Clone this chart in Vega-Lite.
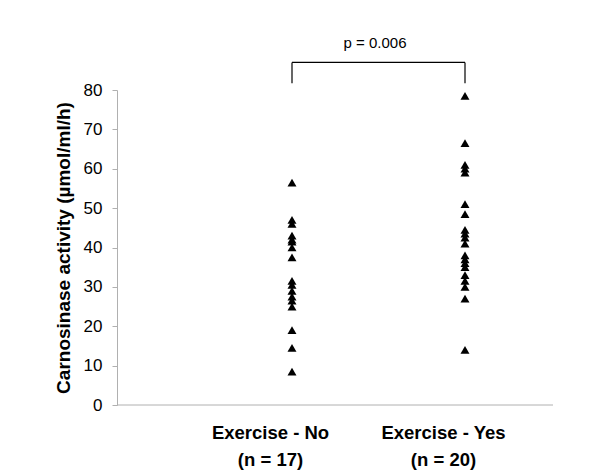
{
  "$schema": "https://vega.github.io/schema/vega-lite/v6.json",
  "autosize": "none",
  "width": 436,
  "height": 315,
  "padding": {"left": 117, "top": 90, "right": 47, "bottom": 66},
  "background": "white",
  "config": {"view": {"stroke": null}, "font": "Liberation Sans", "axisY": {"tickCount": 9, "labelOverlap": false}},
  "datasets": {
    "points": [
      {"group": "No", "activity": 56.5}, {"group": "No", "activity": 47}, {"group": "No", "activity": 46},
      {"group": "No", "activity": 43}, {"group": "No", "activity": 42}, {"group": "No", "activity": 41.5},
      {"group": "No", "activity": 40}, {"group": "No", "activity": 37.5}, {"group": "No", "activity": 31.5},
      {"group": "No", "activity": 30.5}, {"group": "No", "activity": 29}, {"group": "No", "activity": 27.5},
      {"group": "No", "activity": 26.5}, {"group": "No", "activity": 25}, {"group": "No", "activity": 19},
      {"group": "No", "activity": 14.5}, {"group": "No", "activity": 8.5},
      {"group": "Yes", "activity": 78.5}, {"group": "Yes", "activity": 66.5}, {"group": "Yes", "activity": 61},
      {"group": "Yes", "activity": 60}, {"group": "Yes", "activity": 59}, {"group": "Yes", "activity": 51},
      {"group": "Yes", "activity": 48.5}, {"group": "Yes", "activity": 44.5}, {"group": "Yes", "activity": 43.5},
      {"group": "Yes", "activity": 42.5}, {"group": "Yes", "activity": 41}, {"group": "Yes", "activity": 38},
      {"group": "Yes", "activity": 37}, {"group": "Yes", "activity": 36}, {"group": "Yes", "activity": 35},
      {"group": "Yes", "activity": 33}, {"group": "Yes", "activity": 31.5}, {"group": "Yes", "activity": 30},
      {"group": "Yes", "activity": 27}, {"group": "Yes", "activity": 14}
    ],
    "bracketLegs": [
      {"group": "No", "top": 87, "bottom": 81.7},
      {"group": "Yes", "top": 87, "bottom": 81.7}
    ],
    "bracketTop": [
      {"from": "No", "to": "Yes", "level": 87, "base": 0, "label": "p = 0.006"}
    ]
  },
  "layer": [
    {
      "data": {"name": "points"},
      "mark": {"type": "point", "shape": "triangle-up", "filled": true, "color": "black", "opacity": 1, "size": 80},
      "encoding": {
        "x": {
          "field": "group", "type": "ordinal",
          "scale": {"type": "point", "domain": ["No", "Yes"], "range": [175, 348], "padding": 0},
          "axis": {
            "title": null, "domain": false, "ticks": false, "labelAngle": 0, "labelOffset": -22,
            "labelExpr": "datum.value == 'No' ? ['Exercise - No', '(n = 17)'] : ['Exercise - Yes', '(n = 20)']",
            "labelFont": "Liberation Sans", "labelFontSize": 18.5, "labelFontWeight": "bold",
            "labelColor": "black", "labelLineHeight": 27, "labelPadding": 18
          }
        },
        "y": {
          "field": "activity", "type": "quantitative",
          "scale": {"domain": [0, 80], "nice": false},
          "axis": {
            "tickCount": 9,
            "labelOverlap": false,
            "title": "Carnosinase activity (µmol/ml/h)",
            "titleFont": "Liberation Sans", "titleFontSize": 19, "titleFontWeight": "bold",
            "titleColor": "black", "titlePadding": 10,
            "labelFont": "Liberation Sans", "labelFontSize": 17, "labelColor": "black",
            "labelPadding": 10, "domainColor": "#b0b0b0", "tickColor": "#b0b0b0",
            "tickSize": 5, "grid": false
          }
        }
      }
    },
    {
      "data": {"name": "bracketLegs"},
      "mark": {"type": "rule", "color": "black", "strokeWidth": 1.2},
      "encoding": {
        "x": {"field": "group", "type": "ordinal"},
        "y": {"field": "top", "type": "quantitative"},
        "y2": {"field": "bottom"}
      }
    },
    {
      "data": {"name": "bracketTop"},
      "mark": {"type": "rule", "color": "black", "strokeWidth": 1.2},
      "encoding": {
        "x": {"field": "from", "type": "ordinal"},
        "x2": {"field": "to"},
        "y": {"field": "level", "type": "quantitative"}
      }
    },
    {
      "data": {"name": "bracketTop"},
      "mark": {"type": "text", "font": "Liberation Sans", "fontSize": 15, "color": "black", "align": "center", "baseline": "bottom", "dx": 83, "dy": -11},
      "encoding": {
        "x": {"field": "from", "type": "ordinal"},
        "y": {"field": "level", "type": "quantitative"},
        "text": {"field": "label"}
      }
    },
    {
      "data": {"name": "bracketTop"},
      "mark": {"type": "rule", "color": "#b0b0b0", "strokeWidth": 1},
      "encoding": {"y": {"field": "base", "type": "quantitative"}}
    }
  ]
}
